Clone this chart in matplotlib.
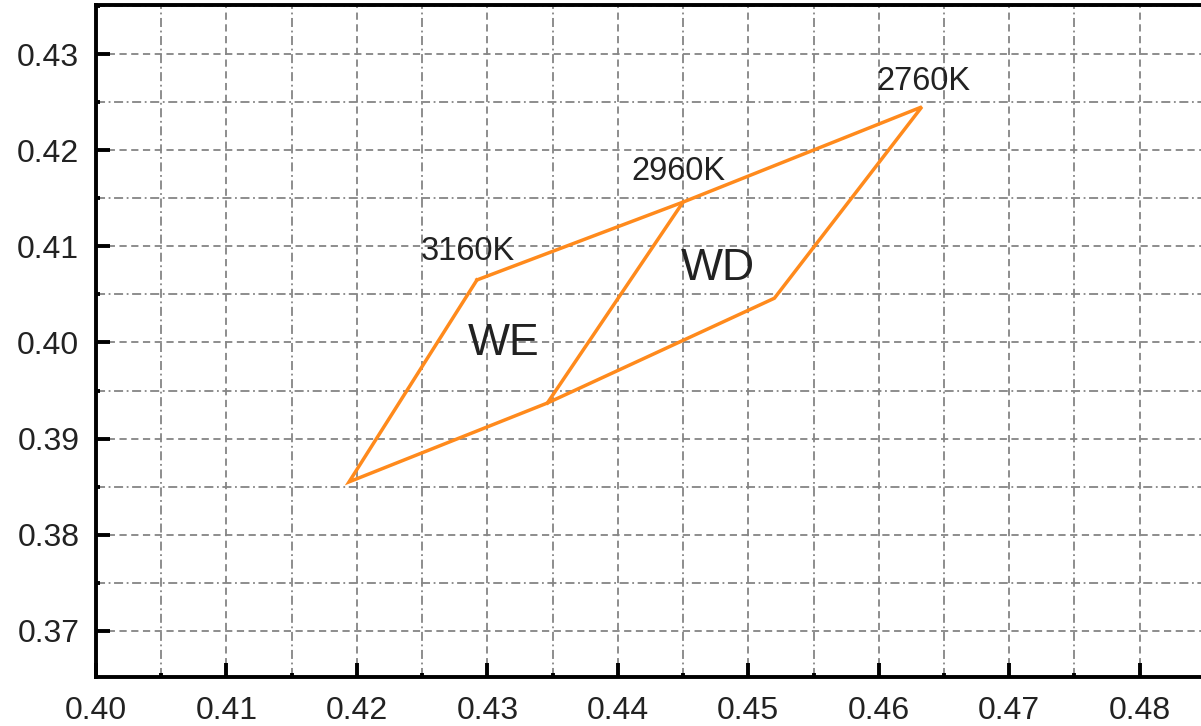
import matplotlib
matplotlib.use("Agg")
import matplotlib.pyplot as plt
from matplotlib.ticker import MultipleLocator

plt.rcParams['font.family'] = ['Liberation Sans', 'DejaVu Sans']

# vertices of the outline (CIE x, y)
outline_x = [0.4292, 0.4450, 0.4633, 0.4520, 0.4346, 0.4194, 0.4292]
outline_y = [0.4065, 0.4146, 0.4245, 0.4046, 0.3937, 0.3855, 0.4065]
# dividing line between WE and WD
split_x = [0.4450, 0.4346]
split_y = [0.4146, 0.3937]

cct_labels = ["3160K", "2960K", "2760K"]
cct_x = [0.4249, 0.4410, 0.4598]
cct_y = [0.4086, 0.4169, 0.4263]

region_labels = ["WE", "WD"]
region_x = [0.4285, 0.4448]
region_y = [0.3987, 0.4065]

W, H = 1201, 726
fig = plt.figure(figsize=(W / 100, H / 100), dpi=100)
ax = fig.add_axes([96 / W, (H - 677) / H, (W - 96) / W, (677 - 5) / H])

orange = "#ff8a1c"
ax.plot(outline_x, outline_y, color=orange, lw=2.5, solid_joinstyle="miter", zorder=3)
ax.plot(split_x, split_y, color=orange, lw=2.5, zorder=3)

txt = "#222222"
for s, x, y in zip(cct_labels, cct_x, cct_y):
    ax.text(x, y, s, fontsize=23.5, color=txt, ha="left", va="baseline", zorder=4)
for s, x, y in zip(region_labels, region_x, region_y):
    ax.text(x, y, s, fontsize=32, color=txt, ha="left", va="baseline", zorder=4)

ax.set_xlim(0.40, 0.4847)
ax.set_ylim(0.3652, 0.4351)
ax.xaxis.set_major_locator(MultipleLocator(0.01))
ax.xaxis.set_minor_locator(MultipleLocator(0.005))
ax.yaxis.set_major_locator(MultipleLocator(0.01))
ax.yaxis.set_minor_locator(MultipleLocator(0.005))
ax.xaxis.set_major_formatter(lambda v, p: f"{v:.2f}")
ax.yaxis.set_major_formatter(lambda v, p: f"{v:.2f}")

ax.grid(which="major", color="#858585", ls=(0, (4, 2.5)), lw=1.3)
ax.grid(which="minor", color="#858585", ls=(0, (5, 2, 1, 2)), lw=1.3)
ax.set_axisbelow(True)

ax.tick_params(which="major", direction="in", length=10, width=2.8,
               labelsize=23, labelcolor=txt)
ax.tick_params(axis="x", which="major", pad=14)
ax.tick_params(axis="y", which="major", pad=12)
ax.tick_params(which="minor", direction="in", length=3, width=2.8)
ax.tick_params(top=False, right=False, which="both")

for side in ["left", "bottom", "top"]:
    ax.spines[side].set_linewidth(2.8)
ax.spines["right"].set_visible(False)

fig.savefig("out.png", dpi=100)
